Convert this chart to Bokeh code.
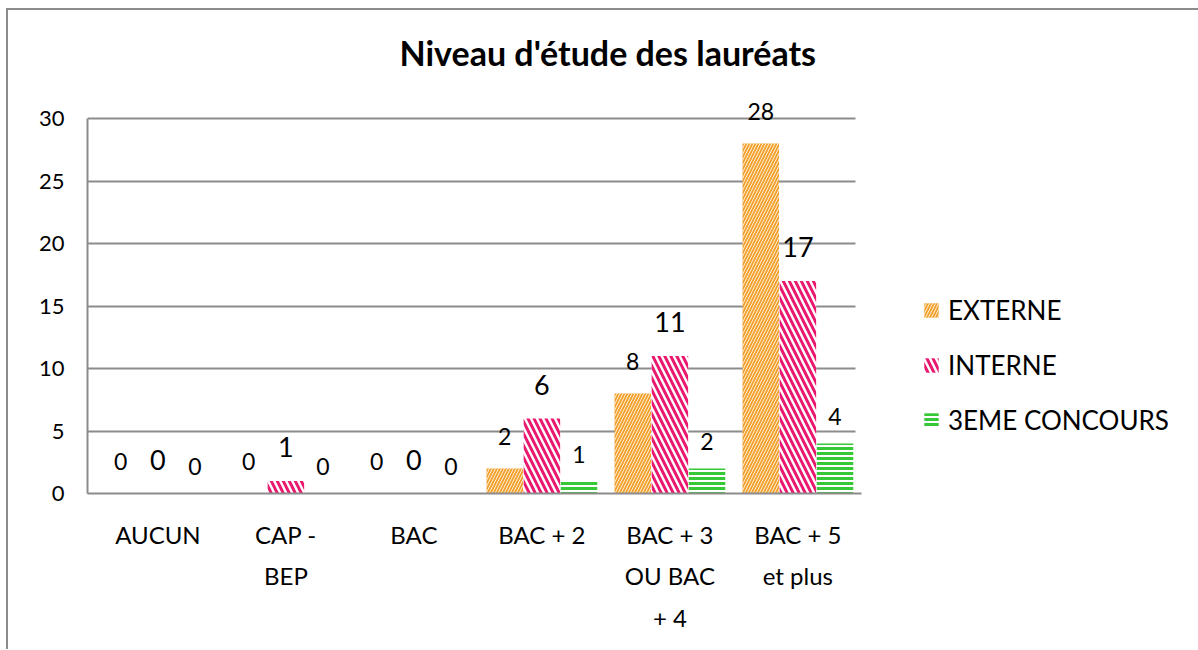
from bokeh.plotting import figure
from bokeh.models import ColumnDataSource, Range1d, FixedTicker, Legend
from bokeh.transform import dodge
from bokeh.core.properties import value
from bokeh.embed import file_html
from bokeh.resources import INLINE

# ---- data ----
categories = ["AUCUN", "CAP -\nBEP", "BAC", "BAC + 2", "BAC + 3\nOU BAC\n+ 4", "BAC + 5\net plus"]
externe = [0, 0, 0, 2, 8, 28]
interne = [0, 1, 0, 6, 11, 17]
troisieme = [0, 0, 0, 1, 2, 4]
series_names = ["EXTERNE", "INTERNE", "3EME CONCOURS"]
y_ticks = [0, 5, 10, 15, 20, 25, 30]
title_text = "Niveau d'étude des lauréats"

FONT = "Lato"
GRAY = "#8c8c8c"
ORANGE = "#F2A22E"
PINK = "#E8196E"
GREEN = "#36C836"

xpos = [i + 0.5 for i in range(len(categories))]
source = ColumnDataSource(dict(
    x=xpos,
    externe=externe, interne=interne, troisieme=troisieme,
    externe_txt=[str(v) for v in externe],
    interne_txt=[str(v) for v in interne],
    troisieme_txt=[str(v) for v in troisieme],
))

CAT_PX = 128
FRAME_W = 781
x_start = -0.05
p = figure(
    frame_width=FRAME_W, frame_height=400,
    x_range=Range1d(x_start, x_start + FRAME_W / CAT_PX),
    y_range=Range1d(0, 32),
    output_backend="svg", toolbar_location=None,
    min_border_left=79, min_border_right=322, min_border_top=0, min_border_bottom=156,
    title=title_text,
)
p.styles = {"margin-left": "6px", "margin-top": "8px",
            "border-top": "2px solid #8c8c8c", "border-left": "2px solid #8c8c8c"}
p.outline_line_color = None
p.background_fill_color = "white"
p.border_fill_color = "white"

# title
p.title.align = "left"
p.title.offset = 312
p.title.vertical_align = "middle"
p.title.text_font = FONT
p.title.text_font_style = "bold"
p.title.text_font_size = "34px"
p.title.text_color = "black"
p.title.standoff = 40

W = 0.285
OFF = 0.29
r1 = p.vbar(x=dodge("x", -OFF, range=p.x_range), top="externe", width=W, source=source,
            fill_color=ORANGE, line_color=None, hatch_pattern="/", hatch_color="white",
            hatch_scale=6, hatch_weight=0.9, hatch_alpha=0.9)
r2 = p.vbar(x=dodge("x", 0, range=p.x_range), top="interne", width=W, source=source,
            fill_color="white", line_color=None, hatch_pattern="\\", hatch_color=PINK,
            hatch_scale=12, hatch_weight=3.0)
r3 = p.vbar(x=dodge("x", OFF, range=p.x_range), top="troisieme", width=W, source=source,
            fill_color="white", line_color=None, hatch_pattern="-", hatch_color=GREEN,
            hatch_scale=5, hatch_weight=3)

p.text(x=dodge("x", -OFF, range=p.x_range), y="externe", text="externe_txt", source=source,
       text_font=value(FONT), text_font_size="23px", text_align="center",
       text_baseline="middle", y_offset=-32, text_color="black")
p.text(x=dodge("x", 0, range=p.x_range), y="interne", text="interne_txt", source=source,
       text_font=value(FONT), text_font_size="27px", text_align="center",
       text_baseline="middle", y_offset=-34, text_color="black")
p.text(x=dodge("x", OFF, range=p.x_range), y="troisieme", text="troisieme_txt", source=source,
       text_font=value(FONT), text_font_size="23px", text_align="center",
       text_baseline="middle", y_offset=-27, text_color="black")

# grid
p.xgrid.visible = False
p.ygrid.ticker = FixedTicker(ticks=y_ticks)
p.ygrid.grid_line_color = GRAY
p.ygrid.grid_line_width = 2
if "cross_bounds" in p.ygrid[0].properties():
    p.ygrid.cross_bounds = (x_start, 5.95)

# y axis
p.yaxis.ticker = FixedTicker(ticks=y_ticks)
p.yaxis.bounds = (0, 30)
p.yaxis.axis_line_color = GRAY
p.yaxis.axis_line_width = 2
p.yaxis.major_tick_line_color = None
p.yaxis.major_tick_out = 0
p.yaxis.major_tick_in = 0
p.yaxis.minor_tick_line_color = None
p.yaxis.major_label_standoff = 23
p.yaxis.major_label_text_font = FONT
p.yaxis.major_label_text_font_size = "22px"
p.yaxis.major_label_text_color = "black"

# x axis
p.xaxis.ticker = FixedTicker(ticks=xpos)
p.xaxis.major_label_overrides = {x: c for x, c in zip(xpos, categories)}
p.xaxis.bounds = (x_start, 6.0)
p.xaxis.axis_line_color = GRAY
p.xaxis.axis_line_width = 2
p.xaxis.major_tick_line_color = None
p.xaxis.major_tick_out = 0
p.xaxis.major_tick_in = 0
p.xaxis.minor_tick_line_color = None
p.xaxis.major_label_standoff = 26
p.xaxis.major_label_text_font = FONT
p.xaxis.major_label_text_font_size = "24px"
p.xaxis.major_label_text_color = "black"
p.xaxis.major_label_text_line_height = 1.44

# legend (outside, on the right)
lg = Legend(items=[(series_names[0], [r1]), (series_names[1], [r2]), (series_names[2], [r3])])
lg.location = (54, 57)
lg.padding = 0
lg.margin = 0
lg.border_line_color = None
lg.background_fill_alpha = 0
lg.glyph_width = 18
lg.glyph_height = 18
lg.label_standoff = 8
lg.label_height = 32
lg.spacing = 23
lg.label_text_font = FONT
lg.label_text_font_size = "26px"
lg.label_text_color = "black"
p.add_layout(lg, "right")

open("out.html", "w").write(file_html(p, INLINE))
